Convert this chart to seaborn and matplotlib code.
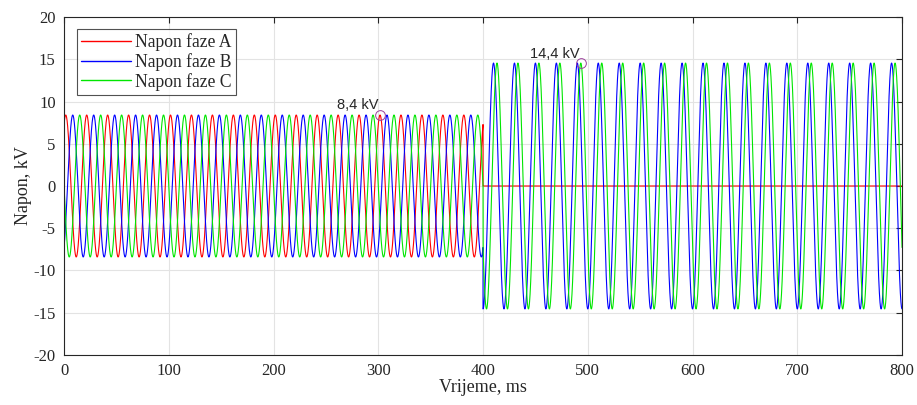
import numpy as np
import pandas as pd
import matplotlib
matplotlib.use("Agg")
import matplotlib.pyplot as plt
import seaborn as sns

# signal parameters
faze = ["Napon faze A", "Napon faze B", "Napon faze C"]
boje = ["#ff0000", "#0000ff", "#00e600"]
amp_prije = [8.4, 8.4, 8.4]          # kV, before fault
kut_prije = [60, -60, 180]           # deg
f_mreze = 50                         # Hz
t_kvara = 400                        # ms
t_kraj = 800                         # ms
oznake_t = [301.7, 493.3]            # ms, annotated peaks
oznake_v = [8.4, 14.55]              # kV
oznake_txt = ["8,4 kV", "14,4 kV"]

# waveforms: after the fault phase A drops to 0, B and C take line voltage
t1 = np.arange(0, t_kvara + 0.025, 0.05)
t2 = np.arange(t_kvara, t_kraj + 0.025, 0.05)
w = 2 * np.pi * f_mreze / 1000
rows = []
va2 = amp_prije[0] * np.sin(w * t2 + np.radians(kut_prije[0]))
for i, ime in enumerate(faze):
    v1 = amp_prije[i] * np.sin(w * t1 + np.radians(kut_prije[i]))
    v2 = amp_prije[i] * np.sin(w * t2 + np.radians(kut_prije[i])) - va2
    rows.append(pd.DataFrame({"t": np.r_[t1, t2], "v": np.r_[v1, v2], "faza": ime}))
df = pd.concat(rows, ignore_index=True)

sns.set_style("white")
plt.rcParams["font.family"] = ["Liberation Serif", "DejaVu Serif"]
plt.rcParams["axes.unicode_minus"] = False

fig = plt.figure(figsize=(9.17, 4.05), dpi=100)
ax = fig.add_axes([0.0698, 0.1235, 0.9139, 0.8345])

sns.lineplot(data=df, x="t", y="v", hue="faza", palette=boje, estimator=None,
             sort=False, linewidth=0.8, ax=ax)

for x, y, s in zip(oznake_t, oznake_v, oznake_txt):
    ax.plot(x, y, marker="o", ms=7, mfc="none", mec="#9b3f9b", mew=0.7)
    ax.text(x - 1.5, y + 0.3, s, ha="right", va="bottom", fontsize=10.5,
            family="Liberation Sans")

ax.set_xlim(0, 800)
ax.set_ylim(-20, 20)
ax.set_xticks(np.arange(0, 801, 100))
ax.set_yticks(np.arange(-20, 21, 5))
ax.grid(True, color="#e3e3e3", linewidth=0.8)
ax.tick_params(direction="in", top=True, right=True, length=4, width=0.8,
               labelsize=12, colors="#262626", pad=6)
for sp in ax.spines.values():
    sp.set_color("#262626")
    sp.set_linewidth(0.8)
ax.set_xlabel("Vrijeme, ms", fontsize=13, labelpad=0)
ax.set_ylabel("Napon, kV", fontsize=13, labelpad=1)

leg = ax.legend(loc="upper left", bbox_to_anchor=(0.0155, 0.9645), fontsize=12.7,
                frameon=True, fancybox=False, edgecolor="#262626",
                handlelength=2.8, handletextpad=0.25, borderpad=0.25,
                labelspacing=0.1, borderaxespad=0)
leg.get_frame().set_linewidth(0.8)
for ln in leg.get_lines():
    ln.set_linewidth(1.0)

fig.savefig("out.png", dpi=100)
